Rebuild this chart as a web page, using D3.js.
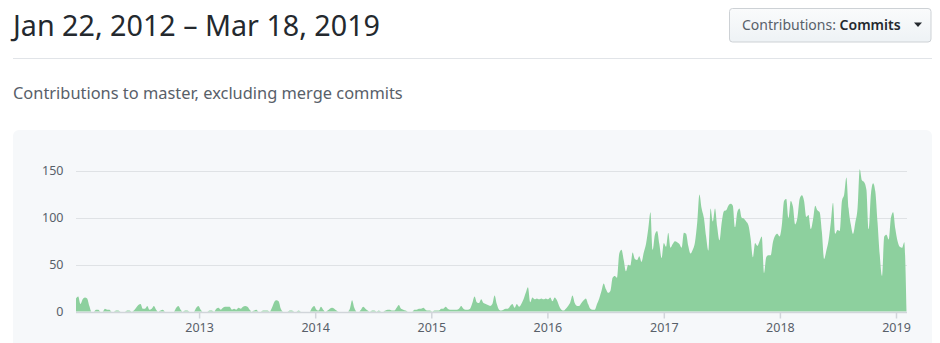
<!DOCTYPE html>
<html>
<head>
<meta charset="utf-8">
<script src="https://cdn.jsdelivr.net/npm/d3@7"></script>
<style>
  html, body { margin: 0; padding: 0; background: #fff; }
  svg { display: block; font-family: "Noto Sans", "DejaVu Sans", sans-serif; }
</style>
</head>
<body>
<svg id="chart" width="940" height="343"></svg>
<script>
// Weekly commit counts to master, one value per week starting Sunday 2011-12-11
const firstWeek = "2011-12-11";
const weeklyCommits = [
  14, 16, 8, 13, 15, 14, 6, 0, 0, 2, 2, 0, 0, 3, 2, 2, 0, 0, 1, 1,
  0, 0, 0, 1, 1, 0, 1, 4, 7, 8, 3, 3, 6, 2, 3, 6, 2, 0, 1, 2,
  0, 0, 0, 0, 0, 4, 6, 2, 0, 1, 1, 0, 0, 0, 4, 6, 2, 0, 0, 0,
  1, 1, 0, 3, 4, 2, 4, 5, 5, 5, 2, 3, 2, 4, 3, 5, 6, 5, 2, 0,
  1, 2, 0, 0, 1, 1, 1, 0, 4, 10, 12, 11, 3, 0, 0, 0, 1, 1, 0, 0,
  1, 0, 0, 0, 0, 0, 4, 6, 2, 1, 5, 2, 0, 1, 3, 4, 3, 1, 0, 0,
  0, 0, 0, 3, 12, 4, 0, 0, 2, 5, 3, 1, 0, 1, 1, 0, 1, 0, 0, 1,
  2, 2, 1, 1, 4, 7, 3, 2, 1, 0, 0, 0, 2, 2, 3, 3, 4, 2, 1, 1,
  0, 1, 1, 1, 3, 3, 5, 3, 2, 2, 2, 2, 3, 6, 3, 2, 2, 3, 9, 16,
  10, 9, 13, 9, 8, 7, 6, 8, 17, 8, 2, 1, 2, 3, 3, 6, 8, 4, 8, 5,
  8, 13, 20, 26, 10, 15, 13, 14, 13, 14, 13, 14, 13, 15, 11, 15, 12, 6, 2, 1,
  3, 6, 10, 17, 9, 6, 6, 9, 12, 14, 8, 3, 2, 2, 8, 14, 22, 30, 24, 20,
  22, 36, 38, 36, 62, 66, 55, 43, 50, 49, 63, 56, 55, 59, 53, 63, 72, 88, 106, 66,
  82, 86, 72, 57, 73, 69, 84, 68, 72, 75, 74, 72, 68, 84, 83, 70, 62, 66, 74, 95,
  125, 110, 100, 80, 65, 110, 96, 110, 90, 76, 95, 107, 108, 113, 115, 113, 90, 106, 110, 100,
  99, 96, 92, 78, 58, 73, 70, 75, 80, 41, 58, 60, 60, 74, 81, 83, 80, 92, 118, 120,
  100, 118, 112, 93, 100, 120, 124, 118, 101, 103, 88, 98, 113, 108, 106, 85, 56, 65, 76, 95,
  116, 83, 87, 86, 118, 125, 143, 110, 93, 83, 95, 110, 152, 140, 138, 130, 88, 125, 137, 128,
  95, 60, 38, 80, 82, 77, 100, 106, 88, 75, 69, 68, 74, 0
];
const yTicks = [0, 50, 100, 150];
const xTickYears = [2013, 2014, 2015, 2016, 2017, 2018, 2019];

const titleText = "Jan 22, 2012 \u2013 Mar 18, 2019";
const subtitleText = "Contributions to master, excluding merge commits";
const buttonLabel = "Contributions: ";
const buttonValue = "Commits";

const parse = d3.utcParse("%Y-%m-%d");
const start = parse(firstWeek);
const data = weeklyCommits.map((v, i) => ({ date: d3.utcDay.offset(start, 7 * i), value: v }));

const svg = d3.select("#chart");

// Header
svg.append("text")
  .attr("x", 13).attr("y", 36)
  .attr("font-size", 28.7)
  .attr("fill", "#24292e")
  .text(titleText);

svg.append("line")
  .attr("x1", 13).attr("x2", 932)
  .attr("y1", 58.5).attr("y2", 58.5)
  .attr("stroke", "#e1e4e8");

svg.append("text")
  .attr("x", 13).attr("y", 98.5)
  .attr("font-size", 16.4)
  .attr("fill", "#586069")
  .text(subtitleText);

// Dropdown button
const defs = svg.append("defs");
const grad = defs.append("linearGradient").attr("id", "btnGrad")
  .attr("x1", 0).attr("y1", 0).attr("x2", 0).attr("y2", 1);
grad.append("stop").attr("offset", "0%").attr("stop-color", "#fafbfc");
grad.append("stop").attr("offset", "90%").attr("stop-color", "#eff3f6");

svg.append("rect")
  .attr("x", 729.5).attr("y", 8.5)
  .attr("width", 201.5).attr("height", 33.5)
  .attr("rx", 3)
  .attr("fill", "url(#btnGrad)")
  .attr("stroke", "#cdd1d5");

const btnText = svg.append("text")
  .attr("x", 742).attr("y", 30)
  .attr("font-size", 14)
  .attr("fill", "#586069");
btnText.append("tspan").text(buttonLabel);
btnText.append("tspan").attr("fill", "#24292e").attr("font-weight", 600).text(buttonValue);

svg.append("path")
  .attr("d", "M914,22.5 L922,22.5 L918,27 Z")
  .attr("fill", "#24292e");

// Graph panel
svg.append("rect")
  .attr("x", 13).attr("y", 130)
  .attr("width", 919).attr("height", 240)
  .attr("rx", 6)
  .attr("fill", "#f6f8fa");

const x = d3.scaleUtc()
  .domain(d3.extent(data, d => d.date))
  .range([76, 906.5]);

const y = d3.scaleLinear()
  .domain([0, 150])
  .range([311.5, 171]);

// Horizontal grid lines with value labels
const grid = svg.append("g");
grid.selectAll("line")
  .data(yTicks)
  .join("line")
  .attr("x1", 76).attr("x2", 907)
  .attr("y1", d => Math.round(y(d)) + 0.5)
  .attr("y2", d => Math.round(y(d)) + 0.5)
  .attr("stroke", "#dfe2e5");

grid.selectAll("text")
  .data(yTicks)
  .join("text")
  .attr("x", 63.5)
  .attr("y", d => y(d))
  .attr("dy", "0.35em")
  .attr("text-anchor", "end")
  .attr("font-size", 12.5)
  .attr("fill", "#586069")
  .text(d => d);

// Commit area
const area = d3.area()
  .x(d => x(d.date))
  .y0(y(0))
  .y1(d => y(d.value))
  .curve(d3.curveMonotoneX);

svg.append("path")
  .datum(data)
  .attr("d", area)
  .attr("fill", "#8dd09e");

// Year axis
const xAxis = d3.axisBottom(x)
  .tickValues(xTickYears.map(yr => new Date(Date.UTC(yr, 0, 1))))
  .tickFormat(d3.utcFormat("%Y"))
  .tickSize(6)
  .tickPadding(5);

const axisG = svg.append("g")
  .attr("transform", `translate(0,${Math.round(y(0)) + 0.5})`)
  .call(xAxis);
axisG.select(".domain")
  .attr("d", `M76,0H907`)
  .attr("stroke", "#d1d5da")
  .attr("stroke-width", 1.5);
axisG.selectAll(".tick line").attr("stroke", "#d1d5da").attr("stroke-width", 1.5);
axisG.selectAll(".tick text")
  .attr("font-size", 12.5)
  .attr("font-family", "\"Noto Sans\", \"DejaVu Sans\", sans-serif")
  .attr("fill", "#586069");
</script>
</body>
</html>
